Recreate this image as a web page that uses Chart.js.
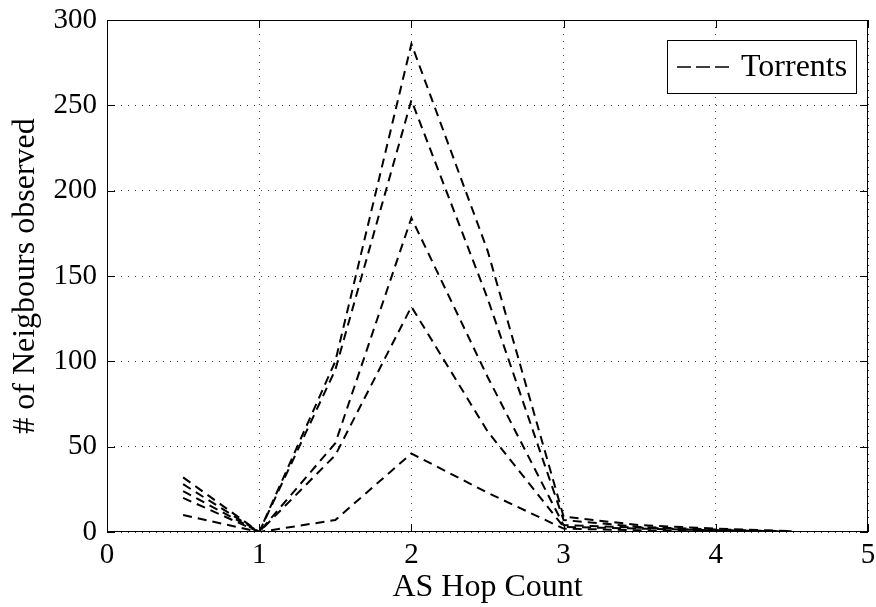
<!DOCTYPE html>
<html>
<head>
<meta charset="utf-8">
<script src="https://cdn.jsdelivr.net/npm/chart.js@4.4.1/dist/chart.umd.min.js"></script>
<style>
    body { margin: 0; background: #fff; }
    #wrap { width: 876px; height: 607px; }
</style>
</head>
<body>
<div id="wrap"><canvas id="hopChart"></canvas></div>
<script>
// AS hop counts on the x axis
const hops = [0.5, 1, 1.5, 2, 2.5, 3, 3.5, 4, 4.5];

// one line per torrent
const torrentA = [32, 0, 100, 286, 165, 9, 4, 2, 0.5];
const torrentB = [28, 0, 95, 253, 137, 7, 3, 1.5, 0.3];
const torrentC = [24, 0, 52, 184, 91, 4, 2.5, 1, 0.2];
const torrentD = [20, 0, 45, 132, 59, 3, 2, 1, 0.2];
const torrentE = [10, 0, 7, 46, 23, 2, 1, 0.5, 0.1];

const xTicks = [0, 1, 2, 3, 4, 5];
const yTicks = [0, 50, 100, 150, 200, 250, 300];
const legendLabel = 'Torrents';

const serif = '"Liberation Serif", "Times New Roman", serif';

function toPoints(values) {
    return values.map((v, i) => ({ x: hops[i], y: v }));
}

const datasets = [torrentA, torrentB, torrentC, torrentD, torrentE].map(values => ({
    label: legendLabel,
    data: toPoints(values),
    borderColor: '#000',
    borderWidth: 2,
    borderDash: [9, 6],
    pointRadius: 0,
    tension: 0,
    fill: false
}));

// Matlab style frame with inward ticks and a boxed legend
const framePlugin = {
    id: 'frame',
    afterDraw(chart) {
        const ctx = chart.ctx;
        const area = chart.chartArea;
        const xs = chart.scales.x;
        const ys = chart.scales.y;
        ctx.save();
        ctx.strokeStyle = '#000';
        ctx.lineWidth = 1;
        ctx.setLineDash([]);
        ctx.strokeRect(area.left + 0.5, area.top + 0.5, area.right - area.left - 1, area.bottom - area.top - 1);

        const tick = 8;
        ctx.beginPath();
        xTicks.forEach(t => {
            const px = Math.round(xs.getPixelForValue(t)) + 0.5;
            ctx.moveTo(px, area.bottom); ctx.lineTo(px, area.bottom - tick);
            ctx.moveTo(px, area.top); ctx.lineTo(px, area.top + tick);
        });
        yTicks.forEach(t => {
            const py = Math.round(ys.getPixelForValue(t)) + 0.5;
            ctx.moveTo(area.left, py); ctx.lineTo(area.left + tick, py);
            ctx.moveTo(area.right, py); ctx.lineTo(area.right - tick, py);
        });
        ctx.stroke();

        // legend box
        const bx = 667, by = 40, bw = 189, bh = 53;
        ctx.fillStyle = '#fff';
        ctx.fillRect(bx, by, bw, bh);
        ctx.strokeRect(bx + 0.5, by + 0.5, bw, bh);
        ctx.beginPath();
        ctx.lineWidth = 1.5;
        ctx.setLineDash([14, 5]);
        ctx.moveTo(bx + 10, by + 27);
        ctx.lineTo(bx + 67, by + 27);
        ctx.stroke();
        ctx.setLineDash([]);
        ctx.fillStyle = '#000';
        ctx.font = '32px ' + serif;
        ctx.textBaseline = 'middle';
        ctx.textAlign = 'left';
        ctx.fillText(legendLabel, bx + 74, by + 28);
        ctx.restore();
    }
};

const ctx = document.getElementById('hopChart').getContext('2d');
const hopChart = new Chart(ctx, {
    type: 'line',
    data: { datasets: datasets },
    options: {
        responsive: true,
        maintainAspectRatio: false,
        animation: false,
        layout: { padding: { top: 20, right: 8, left: 0, bottom: 0 } },
        plugins: {
            legend: { display: false },
            tooltip: { enabled: false }
        },
        scales: {
            x: {
                type: 'linear',
                min: 0,
                max: 5,
                afterBuildTicks: scale => { scale.ticks = xTicks.map(v => ({ value: v })); },
                afterFit: scale => {
                    scale.height = 75;
                    scale.paddingLeft = 0;
                    scale.paddingRight = 0;
                },
                ticks: {
                    color: '#000',
                    padding: 6,
                    font: { family: serif, size: 29 }
                },
                grid: {
                    color: '#444',
                    drawTicks: false,
                    lineWidth: 1
                },
                border: { display: false, dash: [1, 6] },
                title: {
                    display: true,
                    text: 'AS Hop Count',
                    color: '#000',
                    padding: { top: 0, bottom: 0 },
                    font: { family: serif, size: 32 }
                }
            },
            y: {
                min: 0,
                max: 300,
                afterBuildTicks: scale => { scale.ticks = yTicks.map(v => ({ value: v })); },
                afterFit: scale => {
                    scale.width = 107;
                    scale.paddingTop = 0;
                    scale.paddingBottom = 0;
                },
                ticks: {
                    color: '#000',
                    padding: 10,
                    font: { family: serif, size: 29 }
                },
                grid: {
                    color: '#444',
                    drawTicks: false,
                    lineWidth: 1
                },
                border: { display: false, dash: [1, 6] },
                title: {
                    display: true,
                    text: '# of Neigbours observed',
                    color: '#000',
                    padding: { top: 6, bottom: 0 },
                    font: { family: serif, size: 32 }
                }
            }
        }
    },
    plugins: [framePlugin]
});

// dotted grid like the original
hopChart.options.scales.x.grid.borderDash = [1, 6];
hopChart.options.scales.y.grid.borderDash = [1, 6];
hopChart.options.scales.x.border.dash = [1, 6];
hopChart.options.scales.y.border.dash = [1, 6];
hopChart.update();
</script>
</body>
</html>
